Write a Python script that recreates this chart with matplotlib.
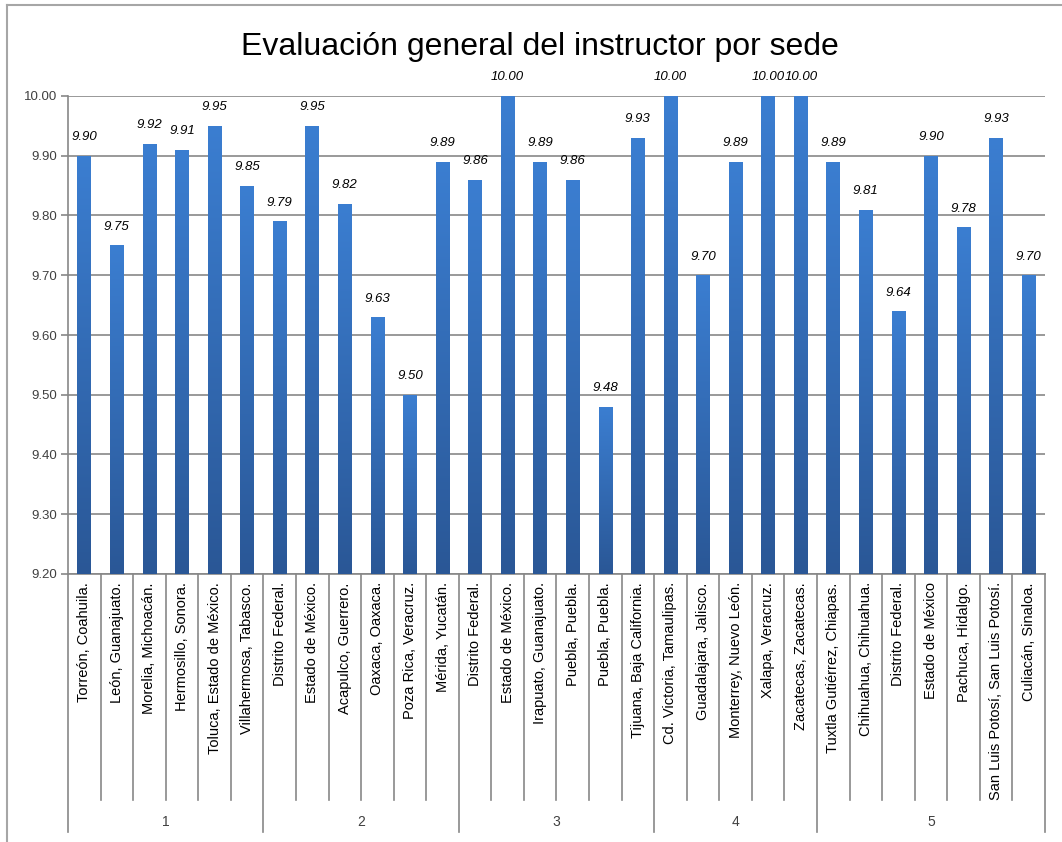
import matplotlib
matplotlib.use("Agg")
import matplotlib.pyplot as plt
import matplotlib.transforms as mtransforms
from matplotlib.colors import LinearSegmentedColormap
from matplotlib.lines import Line2D
from matplotlib import font_manager
import numpy as np

disponibles = {f.name for f in font_manager.fontManager.ttflist}
fam = [f for f in ['Liberation Sans Narrow', 'Liberation Sans', 'DejaVu Sans'] if f in disponibles]
plt.rcParams['font.family'] = fam
narrow = fam[0] == 'Liberation Sans Narrow'

sedes = ["Torreón, Coahuila.", "León, Guanajuato.", "Morelia, Michoacán.", "Hermosillo, Sonora.",
         "Toluca, Estado de México.", "Villahermosa, Tabasco.",
         "Distrito Federal.", "Estado de México.", "Acapulco, Guerrero.", "Oaxaca, Oaxaca.",
         "Poza Rica, Veracruz.", "Mérida, Yucatán.",
         "Distrito Federal.", "Estado de México.", "Irapuato, Guanajuato.", "Puebla, Puebla.",
         "Puebla, Puebla.", "Tijuana, Baja California.",
         "Cd. Victoria, Tamaulipas.", "Guadalajara, Jalisco.", "Monterrey, Nuevo León.",
         "Xalapa, Veracruz.", "Zacatecas, Zacatecas.",
         "Tuxtla Gutiérrez, Chiapas.", "Chihuahua, Chihuahua.", "Distrito Federal.",
         "Estado de México", "Pachuca, Hidalgo.", "San Luis Potosí, San Luis Potosí.",
         "Culiacán, Sinaloa."]
evaluacion = [9.90, 9.75, 9.92, 9.91, 9.95, 9.85,
              9.79, 9.95, 9.82, 9.63, 9.50, 9.89,
              9.86, 10.00, 9.89, 9.86, 9.48, 9.93,
              10.00, 9.70, 9.89, 10.00, 10.00,
              9.89, 9.81, 9.64, 9.90, 9.78, 9.93, 9.70]
grupos = ["1", "2", "3", "4", "5"]
sedes_por_grupo = [6, 6, 6, 5, 7]
yticks = [9.20, 9.30, 9.40, 9.50, 9.60, 9.70, 9.80, 9.90, 10.00]

# font sizes (narrow font can be larger)
fs_tick = 11.5 if narrow else 10.5
fs_val = 11 if narrow else 9.5
fs_ytick = 11 if narrow else 9.5
fs_title = 27 if narrow else 23

W, H = 1062, 842
fig = plt.figure(figsize=(W / 100, H / 100), dpi=100)
ax = fig.add_axes([68 / W, 1 - 574 / H, (1045 - 68) / W, (574 - 96) / H])

x = np.arange(len(sedes))
ymin = yticks[0]
bars = ax.bar(x, np.array(evaluacion) - ymin, bottom=ymin, width=0.42,
              color='#3270BE', zorder=3)

# gradient fill inside every bar
cmap = LinearSegmentedColormap.from_list('azul', ['#2A5796', '#3B7ED1'])
grad = np.linspace(0, 1, 256).reshape(-1, 1)
for b in bars:
    bx, by = b.get_x(), b.get_y()
    im = ax.imshow(grad, cmap=cmap, origin='lower', aspect='auto', zorder=4,
                   extent=[bx, bx + b.get_width(), by, by + b.get_height()])
    im.set_clip_path(b)

for xi, v in zip(x, evaluacion):
    ax.annotate(f"{v:.2f}", (xi, v), xytext=(0, 9), textcoords='offset points',
                ha='center', va='bottom', fontsize=fs_val, style='italic', color='black')

ax.set_xlim(-0.5, len(sedes) - 0.5)
ax.set_ylim(ymin, yticks[-1])
ax.set_yticks(yticks)
ax.set_yticklabels([f"{t:.2f}" for t in yticks], fontsize=fs_ytick, color='#404040')
ax.yaxis.grid(True, color='#878787', linewidth=1.2, zorder=0)
ax.set_axisbelow(True)
ax.tick_params(axis='y', length=5, width=1.2, color='#878787', pad=3)
ax.tick_params(axis='x', length=0, pad=6)
ax.set_xticks(x)
ax.set_xticklabels(sedes, rotation=90, fontsize=fs_tick, color='black', va='top')
for s in ['top', 'right']:
    ax.spines[s].set_visible(False)
for s in ['left', 'bottom']:
    ax.spines[s].set_color('#878787')
    ax.spines[s].set_linewidth(1.2)

# category and group separators below the axis
trans = mtransforms.blended_transform_factory(ax.transData, fig.transFigure)
y_axis = 1 - 574 / H
y_cat = 1 - 800 / H
y_grp = 1 - 832 / H
bordes = np.cumsum([0] + sedes_por_grupo) - 0.5
for k in range(1, len(sedes)):
    if k - 0.5 in bordes:
        continue
    ax.add_line(Line2D([k - 0.5, k - 0.5], [y_axis, y_cat], transform=trans,
                       color='#878787', lw=1.2, clip_on=False))
for b in bordes:
    ax.add_line(Line2D([b, b], [y_axis, y_grp], transform=trans,
                       color='#878787', lw=1.2, clip_on=False))
for g, a, c in zip(grupos, bordes[:-1], bordes[1:]):
    ax.text((a + c) / 2, 1 - 822 / H, g, transform=trans, ha='center', va='center',
            fontsize=fs_ytick + 0.5, color='#404040')

fig.text(540 / W, 1 - 47 / H, "Evaluación general del instructor por sede",
         ha='center', va='center', fontsize=fs_title, color='black')

# chart frame
fig.add_artist(Line2D([7 / W, 7 / W], [0, 1 - 5 / H], transform=fig.transFigure,
                      color='#A6A6A6', lw=1.5))
fig.add_artist(Line2D([7 / W, 1], [1 - 5 / H, 1 - 5 / H], transform=fig.transFigure,
                      color='#A6A6A6', lw=1.5))

fig.savefig('out.png', dpi=100)
